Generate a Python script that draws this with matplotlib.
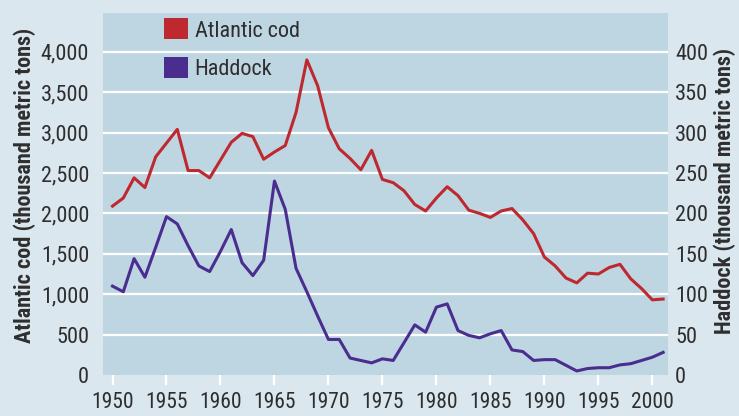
import matplotlib
matplotlib.use("Agg")
import matplotlib.pyplot as plt
from matplotlib.patches import Patch

# Datos
years = list(range(1950, 2002))
cod = [2090, 2190, 2440, 2320, 2700, 2870, 3040, 2530, 2530, 2440,
       2660, 2880, 2990, 2950, 2670, 2760, 2840, 3250, 3900, 3580,
       3060, 2800, 2680, 2540, 2780, 2420, 2380, 2280, 2110, 2030,
       2190, 2330, 2220, 2040, 2000, 1950, 2030, 2060, 1920, 1750,
       1460, 1350, 1200, 1140, 1260, 1250, 1330, 1370, 1190, 1070,
       930, 940]
haddock = [110, 103, 144, 121, 158, 196, 187, 160, 135, 128,
           153, 180, 139, 123, 142, 240, 205, 132, 103, 73,
           44, 44, 21, 18, 15, 20, 18, 40, 62, 53,
           84, 88, 55, 49, 46, 51, 55, 31, 29, 18,
           19, 19, 12, 5, 8, 9, 9, 12.5, 14, 18,
           22, 28]

cod_ticks = list(range(0, 4001, 500))
haddock_ticks = list(range(0, 401, 50))
year_ticks = list(range(1950, 2001, 5))

COD_COLOR = "#be2930"
HAD_COLOR = "#4a2d8e"
BG_OUT = "#dbe7ef"
BG_IN = "#bed6e2"
TXT = "#2e2e2e"

plt.rcParams["font.family"] = ["Roboto Condensed", "DejaVu Sans"]

fig = plt.figure(figsize=(7.39, 4.16), dpi=100)
fig.patch.set_facecolor(BG_OUT)
ax = fig.add_axes([103 / 739, 41 / 416, 565 / 739, 362 / 416])
ax.set_facecolor(BG_IN)
ax2 = ax.twinx()

ax.plot(years, cod, color=COD_COLOR, lw=2.2, zorder=3)
ax2.plot(years, haddock, color=HAD_COLOR, lw=2.2, zorder=3)

ax.set_xlim(1949.12, 2001.45)
ax.set_ylim(0, 4480)
ax2.set_ylim(0, 448)

ax.set_xticks(year_ticks)
ax.set_xticklabels([str(y) for y in year_ticks], fontsize=15.5, color=TXT)
ax.set_yticks(cod_ticks)
ax.set_yticklabels([f"{v:,}" for v in cod_ticks], fontsize=16, color=TXT)
ax2.set_yticks(haddock_ticks)
ax2.set_yticklabels([str(v) for v in haddock_ticks], fontsize=16, color=TXT)

ax.tick_params(axis="x", direction="out", length=7.5, width=1.6, color="white", pad=5)
ax.tick_params(axis="y", length=0, pad=10)
ax2.tick_params(axis="y", length=0, pad=5)

ax.grid(axis="y", color="white", lw=1.6, zorder=1)
ax.yaxis.get_gridlines()[0].set_visible(False)
ax.set_axisbelow(True)

for a in (ax, ax2):
    for s in a.spines.values():
        s.set_visible(False)

ax.set_ylabel("Atlantic cod (thousand metric tons)", fontsize=16, fontweight="bold",
              color=TXT)
ax.yaxis.set_label_coords(-0.118, 0.523)
ax2.set_ylabel("Haddock (thousand metric tons)", fontsize=16, fontweight="bold",
               color=TXT)
ax2.yaxis.set_label_coords(1.080, 0.507)

handles = [Patch(facecolor=COD_COLOR, edgecolor="none", label="Atlantic cod"),
           Patch(facecolor=HAD_COLOR, edgecolor="none", label="Haddock")]
leg = ax2.legend(handles=handles, loc="upper left", bbox_to_anchor=(0.108, 0.985),
                 frameon=False, fontsize=16, handlelength=1.08, handleheight=1.08,
                 handletextpad=0.3, labelspacing=0.7, borderpad=0, borderaxespad=0)
for t in leg.get_texts():
    t.set_color(TXT)

fig.savefig("out.png", dpi=100, facecolor=fig.get_facecolor())
